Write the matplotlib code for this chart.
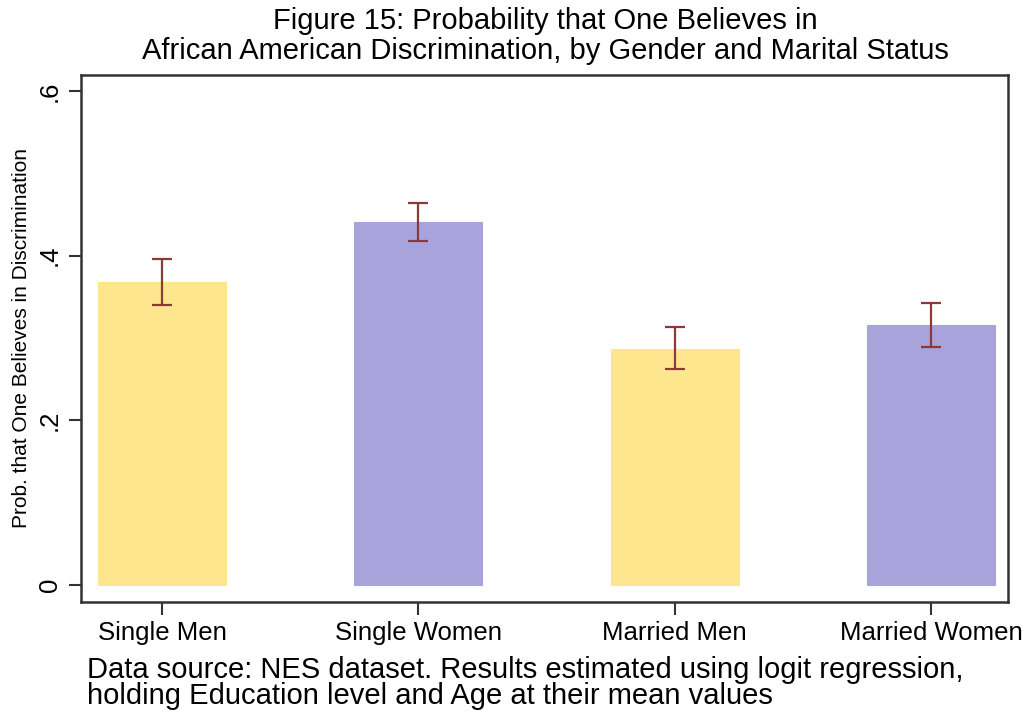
import matplotlib.pyplot as plt
import numpy as np

plt.rcParams['font.family'] = ['Liberation Sans', 'DejaVu Sans']

# predicted probabilities and confidence bounds per group
groups = ['Single Men', 'Single Women', 'Married Men', 'Married Women']
prob = [0.368, 0.441, 0.287, 0.316]
ci_low = [0.340, 0.418, 0.262, 0.289]
ci_high = [0.396, 0.464, 0.313, 0.342]
bar_colors = ['#fde68e', '#a9a3db', '#fde68e', '#a9a3db']

ytick_vals = [0, 0.2, 0.4, 0.6]
ytick_text = ['0', '.2', '.4', '.6']

fig = plt.figure(figsize=(10.29, 7.15), dpi=100)
ax = fig.add_axes([81 / 1029, 1 - 602 / 715, 927 / 1029, 527 / 715])

x = np.arange(len(groups))
prob = np.array(prob)
err = [prob - np.array(ci_low), np.array(ci_high) - prob]

ax.bar(x, prob, width=0.5, color=bar_colors, edgecolor=bar_colors, linewidth=0.8)
ax.errorbar(x, prob, yerr=err, fmt='none', ecolor='#8b3a3a',
            elinewidth=1.6, capsize=7, capthick=1.6)

ax.set_xlim(-0.316, 3.30)
ax.set_ylim(-0.0207, 0.6194)

ax.set_xticks(x)
ax.set_xticklabels(groups, fontsize=18.5)
ax.set_yticks(ytick_vals)
ax.set_yticklabels(ytick_text, fontsize=18.5, rotation=90, va='center')
ax.tick_params(axis='both', direction='out', length=9, width=1.5, color='#333333', pad=5)

for side in ['left', 'bottom', 'top', 'right']:
    ax.spines[side].set_color('#333333')
    ax.spines[side].set_linewidth(1.8)

ax.set_ylabel('Prob. that One Believes in Discrimination', fontsize=15, labelpad=5)

fig.text(545 / 1029, 1 - 36 / 715,
         'Figure 15: Probability that One Believes in\nAfrican American Discrimination, by Gender and Marital Status',
         ha='center', va='center', fontsize=21, linespacing=1.08)

fig.text(87 / 1029, 1 - 683 / 715,
         'Data source: NES dataset. Results estimated using logit regression,\nholding Education level and Age at their mean values',
         ha='left', va='center', fontsize=21, linespacing=0.95)

fig.savefig('out.png', dpi=100)
